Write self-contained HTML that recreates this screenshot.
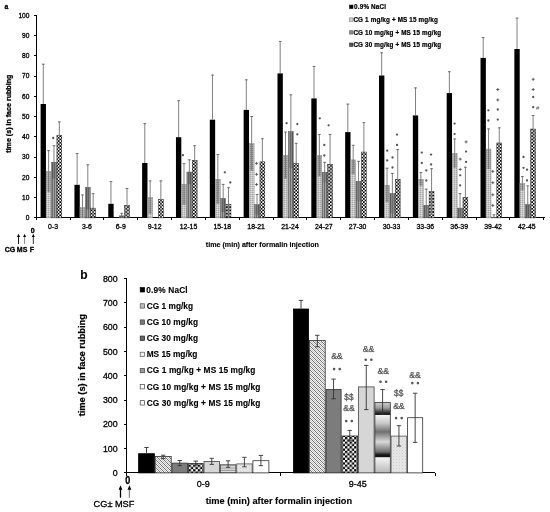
<!DOCTYPE html>
<html><head><meta charset="utf-8"><style>
html,body{margin:0;padding:0;background:#fff;}
body{width:550px;height:512px;overflow:hidden;}
svg{display:block;will-change:transform;}
svg text{font-family:"Liberation Sans", sans-serif;fill:#000;}
.r{stroke:#000;stroke-width:0.3px;}
svg text[font-weight="bold"]{stroke:#000;stroke-width:0.12px;}
</style></head><body>
<svg width="550" height="512" viewBox="0 0 550 512">

<defs>
 <pattern id="pLight" width="2" height="2" patternUnits="userSpaceOnUse" shape-rendering="crispEdges">
  <rect width="2" height="2" fill="#c8c8c8"/>
  <rect width="1" height="1" fill="#a6a6a6"/>
  <rect x="1" y="1" width="1" height="1" fill="#dedede"/>
 </pattern>
 <pattern id="pGray" width="2" height="2" patternUnits="userSpaceOnUse">
  <rect width="2" height="2" fill="#a2a2a2"/>
  <rect width="1" height="2" fill="#6a6a6a"/>
 </pattern>
 <pattern id="pCheck" width="3.3" height="3.3" patternUnits="userSpaceOnUse">
  <rect width="3.3" height="3.3" fill="#ffffff"/>
  <rect width="1.65" height="1.65" fill="#000"/>
  <rect x="1.65" y="1.65" width="1.65" height="1.65" fill="#000"/>
 </pattern>
 <pattern id="pCheckB" width="4.6" height="4.6" patternUnits="userSpaceOnUse">
  <rect width="4.6" height="4.6" fill="#ffffff"/>
  <rect width="2.3" height="2.3" fill="#000"/>
  <rect x="2.3" y="2.3" width="2.3" height="2.3" fill="#000"/>
 </pattern>
 <pattern id="pHatch" width="4" height="4" patternUnits="userSpaceOnUse" shape-rendering="crispEdges">
  <rect width="4" height="4" fill="#c2c2c2"/>
  <rect x="1" y="0" width="1" height="1" fill="#f0f0f0"/><rect x="3" y="0" width="1" height="1" fill="#f0f0f0"/>
  <rect x="0" y="1" width="1" height="1" fill="#f0f0f0"/><rect x="2" y="1" width="1" height="1" fill="#f0f0f0"/>
  <rect x="1" y="2" width="1" height="1" fill="#f0f0f0"/><rect x="3" y="2" width="1" height="1" fill="#f0f0f0"/>
  <rect x="0" y="3" width="1" height="1" fill="#f0f0f0"/><rect x="2" y="3" width="1" height="1" fill="#f0f0f0"/>
  <rect x="0" y="0" width="1" height="1" fill="#777"/><rect x="1" y="1" width="1" height="1" fill="#777"/>
  <rect x="2" y="2" width="1" height="1" fill="#777"/><rect x="3" y="3" width="1" height="1" fill="#777"/>
 </pattern>
 <pattern id="pHStripe" width="4" height="2.2" patternUnits="userSpaceOnUse">
  <rect width="4" height="2.2" fill="#eeeeee"/>
  <rect y="1.1" width="4" height="1.1" fill="#9a9a9a"/>
 </pattern>
 <pattern id="pDots" width="3" height="3" patternUnits="userSpaceOnUse">
  <rect width="3" height="3" fill="#e6e6e6"/>
  <rect x="0" y="0" width="1" height="1" fill="#cfcfcf"/>
  <rect x="1.5" y="1.5" width="1" height="1" fill="#dcdcdc"/>
 </pattern>
 <linearGradient id="gCyl" x1="0" y1="402" x2="0" y2="473" gradientUnits="userSpaceOnUse">
  <stop offset="0" stop-color="#d0d0d0"/>
  <stop offset="0.08" stop-color="#a0a0a0"/>
  <stop offset="0.15" stop-color="#303030"/>
  <stop offset="0.175" stop-color="#101010"/>
  <stop offset="0.19" stop-color="#f2f2f2"/>
  <stop offset="0.30" stop-color="#c8c8c8"/>
  <stop offset="0.42" stop-color="#707070"/>
  <stop offset="0.56" stop-color="#d8d8d8"/>
  <stop offset="0.70" stop-color="#707070"/>
  <stop offset="0.745" stop-color="#151515"/>
  <stop offset="0.77" stop-color="#151515"/>
  <stop offset="0.785" stop-color="#f4f4f4"/>
  <stop offset="1" stop-color="#b8b8b8"/>
 </linearGradient>
</defs>
<g shape-rendering="crispEdges">
<rect x="35.8" y="15" width="1" height="203.4" fill="#000"/>
<rect x="35.8" y="217.4" width="508.8" height="1" fill="#000"/>
<rect x="33.8" y="217.4" width="2.5" height="1" fill="#000"/>
<rect x="33.8" y="197.13" width="2.5" height="1" fill="#000"/>
<rect x="33.8" y="176.86" width="2.5" height="1" fill="#000"/>
<rect x="33.8" y="156.59" width="2.5" height="1" fill="#000"/>
<rect x="33.8" y="136.32" width="2.5" height="1" fill="#000"/>
<rect x="33.8" y="116.05" width="2.5" height="1" fill="#000"/>
<rect x="33.8" y="95.78" width="2.5" height="1" fill="#000"/>
<rect x="33.8" y="75.51" width="2.5" height="1" fill="#000"/>
<rect x="33.8" y="55.24" width="2.5" height="1" fill="#000"/>
<rect x="33.8" y="34.97" width="2.5" height="1" fill="#000"/>
<rect x="33.8" y="14.7" width="2.5" height="1" fill="#000"/>
<rect x="35.66" y="217.9" width="1" height="2.5" fill="#000"/>
<rect x="69.5" y="217.9" width="1" height="2.5" fill="#000"/>
<rect x="103.34" y="217.9" width="1" height="2.5" fill="#000"/>
<rect x="137.18" y="217.9" width="1" height="2.5" fill="#000"/>
<rect x="171.02" y="217.9" width="1" height="2.5" fill="#000"/>
<rect x="204.86" y="217.9" width="1" height="2.5" fill="#000"/>
<rect x="238.7" y="217.9" width="1" height="2.5" fill="#000"/>
<rect x="272.54" y="217.9" width="1" height="2.5" fill="#000"/>
<rect x="306.38" y="217.9" width="1" height="2.5" fill="#000"/>
<rect x="340.22" y="217.9" width="1" height="2.5" fill="#000"/>
<rect x="374.06" y="217.9" width="1" height="2.5" fill="#000"/>
<rect x="407.9" y="217.9" width="1" height="2.5" fill="#000"/>
<rect x="441.74" y="217.9" width="1" height="2.5" fill="#000"/>
<rect x="475.58" y="217.9" width="1" height="2.5" fill="#000"/>
<rect x="509.42" y="217.9" width="1" height="2.5" fill="#000"/>
<rect x="543.26" y="217.9" width="1" height="2.5" fill="#000"/>
</g>
<text class="r" x="29.4" y="220.3" font-size="6.6" text-anchor="end">0</text>
<text class="r" x="29.4" y="200.03" font-size="6.6" text-anchor="end">10</text>
<text class="r" x="29.4" y="179.76" font-size="6.6" text-anchor="end">20</text>
<text class="r" x="29.4" y="159.49" font-size="6.6" text-anchor="end">30</text>
<text class="r" x="29.4" y="139.22" font-size="6.6" text-anchor="end">40</text>
<text class="r" x="29.4" y="118.95" font-size="6.6" text-anchor="end">50</text>
<text class="r" x="29.4" y="98.68" font-size="6.6" text-anchor="end">60</text>
<text class="r" x="29.4" y="78.41" font-size="6.6" text-anchor="end">70</text>
<text class="r" x="29.4" y="58.14" font-size="6.6" text-anchor="end">80</text>
<text class="r" x="29.4" y="37.87" font-size="6.6" text-anchor="end">90</text>
<text class="r" x="29.4" y="17.6" font-size="6.6" text-anchor="end">100</text>
<rect x="40.6" y="104" width="5.35" height="113.9" fill="#000"/>
<rect x="46.2" y="171.45" width="4.85" height="46.45" fill="url(#pLight)" stroke="#8a8a8a" stroke-width="0.5"/>
<rect x="51.55" y="162.25" width="4.85" height="55.65" fill="url(#pGray)" stroke="#555" stroke-width="0.5"/>
<rect x="56.9" y="135.45" width="4.85" height="82.45" fill="url(#pCheck)" stroke="#222" stroke-width="0.5"/>
<line x1="43.27" y1="63.9" x2="43.27" y2="104" stroke="#737373" stroke-width="0.9"/>
<line x1="41.88" y1="64.2" x2="44.67" y2="64.2" stroke="#555" stroke-width="0.8"/>
<rect x="46.55" y="171.7" width="4.15" height="20.4" fill="#000" fill-opacity="0.16"/>
<line x1="48.62" y1="150.3" x2="48.62" y2="192.1" stroke="#737373" stroke-width="0.9"/>
<line x1="47.23" y1="150.6" x2="50.02" y2="150.6" stroke="#555" stroke-width="0.8"/>
<rect x="51.9" y="162.5" width="4.15" height="16.1" fill="#000" fill-opacity="0.16"/>
<line x1="53.97" y1="145.4" x2="53.97" y2="178.6" stroke="#737373" stroke-width="0.9"/>
<line x1="52.57" y1="145.7" x2="55.37" y2="145.7" stroke="#555" stroke-width="0.8"/>
<line x1="59.32" y1="121.6" x2="59.32" y2="148.8" stroke="#737373" stroke-width="0.9"/>
<line x1="57.92" y1="121.9" x2="60.72" y2="121.9" stroke="#555" stroke-width="0.8"/>
<text class="r" x="53.08" y="229" font-size="6.9" text-anchor="middle">0-3</text>
<rect x="74.44" y="184.8" width="5.35" height="33.1" fill="#000"/>
<rect x="80.04" y="207.55" width="4.85" height="10.35" fill="url(#pLight)" stroke="#8a8a8a" stroke-width="0.5"/>
<rect x="85.39" y="187.25" width="4.85" height="30.65" fill="url(#pGray)" stroke="#555" stroke-width="0.5"/>
<rect x="90.74" y="208.15" width="4.85" height="9.75" fill="url(#pCheck)" stroke="#222" stroke-width="0.5"/>
<line x1="77.11" y1="153.2" x2="77.11" y2="184.8" stroke="#737373" stroke-width="0.9"/>
<line x1="75.71" y1="153.5" x2="78.52" y2="153.5" stroke="#555" stroke-width="0.8"/>
<rect x="80.39" y="207.8" width="4.15" height="10.1" fill="#000" fill-opacity="0.16"/>
<line x1="82.46" y1="194.6" x2="82.46" y2="217.9" stroke="#737373" stroke-width="0.9"/>
<line x1="81.06" y1="194.9" x2="83.86" y2="194.9" stroke="#555" stroke-width="0.8"/>
<rect x="85.74" y="187.5" width="4.15" height="22" fill="#000" fill-opacity="0.16"/>
<line x1="87.81" y1="164.5" x2="87.81" y2="209.5" stroke="#737373" stroke-width="0.9"/>
<line x1="86.41" y1="164.8" x2="89.22" y2="164.8" stroke="#555" stroke-width="0.8"/>
<line x1="93.16" y1="193.4" x2="93.16" y2="217.9" stroke="#737373" stroke-width="0.9"/>
<line x1="91.76" y1="193.7" x2="94.56" y2="193.7" stroke="#555" stroke-width="0.8"/>
<text class="r" x="86.92" y="229" font-size="6.9" text-anchor="middle">3-6</text>
<rect x="108.28" y="203.8" width="5.35" height="14.1" fill="#000"/>
<rect x="119.23" y="215.85" width="4.85" height="2.05" fill="url(#pGray)" stroke="#555" stroke-width="0.5"/>
<rect x="124.58" y="205.25" width="4.85" height="12.65" fill="url(#pCheck)" stroke="#222" stroke-width="0.5"/>
<line x1="110.95" y1="181.3" x2="110.95" y2="203.8" stroke="#737373" stroke-width="0.9"/>
<line x1="109.55" y1="181.6" x2="112.36" y2="181.6" stroke="#555" stroke-width="0.8"/>
<rect x="119.58" y="216.1" width="4.15" height="1.8" fill="#000" fill-opacity="0.16"/>
<line x1="121.66" y1="213" x2="121.66" y2="217.9" stroke="#737373" stroke-width="0.9"/>
<line x1="120.25" y1="213.3" x2="123.06" y2="213.3" stroke="#555" stroke-width="0.8"/>
<line x1="127" y1="188.2" x2="127" y2="217.9" stroke="#737373" stroke-width="0.9"/>
<line x1="125.6" y1="188.5" x2="128.41" y2="188.5" stroke="#555" stroke-width="0.8"/>
<text class="r" x="120.76" y="229" font-size="6.9" text-anchor="middle">6-9</text>
<rect x="142.12" y="163" width="5.35" height="54.9" fill="#000"/>
<rect x="147.72" y="197.45" width="4.85" height="20.45" fill="url(#pLight)" stroke="#8a8a8a" stroke-width="0.5"/>
<rect x="158.42" y="199.45" width="4.85" height="18.45" fill="url(#pCheck)" stroke="#222" stroke-width="0.5"/>
<line x1="144.8" y1="123.3" x2="144.8" y2="163" stroke="#737373" stroke-width="0.9"/>
<line x1="143.4" y1="123.6" x2="146.2" y2="123.6" stroke="#555" stroke-width="0.8"/>
<rect x="148.07" y="197.7" width="4.15" height="16.1" fill="#000" fill-opacity="0.16"/>
<line x1="150.15" y1="180.6" x2="150.15" y2="213.8" stroke="#737373" stroke-width="0.9"/>
<line x1="148.75" y1="180.9" x2="151.55" y2="180.9" stroke="#555" stroke-width="0.8"/>
<line x1="160.85" y1="180.6" x2="160.85" y2="217.8" stroke="#737373" stroke-width="0.9"/>
<line x1="159.45" y1="180.9" x2="162.25" y2="180.9" stroke="#555" stroke-width="0.8"/>
<text class="r" x="154.6" y="229" font-size="6.9" text-anchor="middle">9-12</text>
<rect x="175.96" y="137.2" width="5.35" height="80.7" fill="#000"/>
<rect x="181.56" y="184.35" width="4.85" height="33.55" fill="url(#pLight)" stroke="#8a8a8a" stroke-width="0.5"/>
<rect x="186.91" y="172.05" width="4.85" height="45.85" fill="url(#pGray)" stroke="#555" stroke-width="0.5"/>
<rect x="192.26" y="160.35" width="4.85" height="57.55" fill="url(#pCheck)" stroke="#222" stroke-width="0.5"/>
<line x1="178.64" y1="100.4" x2="178.64" y2="137.2" stroke="#737373" stroke-width="0.9"/>
<line x1="177.24" y1="100.7" x2="180.04" y2="100.7" stroke="#555" stroke-width="0.8"/>
<rect x="181.91" y="184.6" width="4.15" height="20.2" fill="#000" fill-opacity="0.16"/>
<line x1="183.99" y1="163.4" x2="183.99" y2="204.8" stroke="#737373" stroke-width="0.9"/>
<line x1="182.59" y1="163.7" x2="185.39" y2="163.7" stroke="#555" stroke-width="0.8"/>
<rect x="187.26" y="172.3" width="4.15" height="11.8" fill="#000" fill-opacity="0.16"/>
<line x1="189.34" y1="159.5" x2="189.34" y2="184.1" stroke="#737373" stroke-width="0.9"/>
<line x1="187.94" y1="159.8" x2="190.74" y2="159.8" stroke="#555" stroke-width="0.8"/>
<line x1="194.69" y1="145.4" x2="194.69" y2="174.8" stroke="#737373" stroke-width="0.9"/>
<line x1="193.28" y1="145.7" x2="196.09" y2="145.7" stroke="#555" stroke-width="0.8"/>
<text class="r" x="188.44" y="229" font-size="6.9" text-anchor="middle">12-15</text>
<rect x="209.8" y="119.7" width="5.35" height="98.2" fill="#000"/>
<rect x="215.4" y="179.25" width="4.85" height="38.65" fill="url(#pLight)" stroke="#8a8a8a" stroke-width="0.5"/>
<rect x="220.75" y="198.35" width="4.85" height="19.55" fill="url(#pGray)" stroke="#555" stroke-width="0.5"/>
<rect x="226.1" y="204.25" width="4.85" height="13.65" fill="url(#pCheck)" stroke="#222" stroke-width="0.5"/>
<line x1="212.48" y1="74.8" x2="212.48" y2="119.7" stroke="#737373" stroke-width="0.9"/>
<line x1="211.08" y1="75.1" x2="213.88" y2="75.1" stroke="#555" stroke-width="0.8"/>
<rect x="215.75" y="179.5" width="4.15" height="24.3" fill="#000" fill-opacity="0.16"/>
<line x1="217.83" y1="154.2" x2="217.83" y2="203.8" stroke="#737373" stroke-width="0.9"/>
<line x1="216.43" y1="154.5" x2="219.23" y2="154.5" stroke="#555" stroke-width="0.8"/>
<rect x="221.1" y="198.6" width="4.15" height="13.5" fill="#000" fill-opacity="0.16"/>
<line x1="223.18" y1="184.1" x2="223.18" y2="212.1" stroke="#737373" stroke-width="0.9"/>
<line x1="221.78" y1="184.4" x2="224.58" y2="184.4" stroke="#555" stroke-width="0.8"/>
<line x1="228.53" y1="187.4" x2="228.53" y2="217.9" stroke="#737373" stroke-width="0.9"/>
<line x1="227.13" y1="187.7" x2="229.93" y2="187.7" stroke="#555" stroke-width="0.8"/>
<text class="r" x="222.28" y="229" font-size="6.9" text-anchor="middle">15-18</text>
<rect x="243.64" y="109.9" width="5.35" height="108" fill="#000"/>
<rect x="249.24" y="143.65" width="4.85" height="74.25" fill="url(#pLight)" stroke="#8a8a8a" stroke-width="0.5"/>
<rect x="254.59" y="204.65" width="4.85" height="13.25" fill="url(#pGray)" stroke="#555" stroke-width="0.5"/>
<rect x="259.94" y="161.85" width="4.85" height="56.05" fill="url(#pCheck)" stroke="#222" stroke-width="0.5"/>
<line x1="246.32" y1="79.5" x2="246.32" y2="109.9" stroke="#737373" stroke-width="0.9"/>
<line x1="244.92" y1="79.8" x2="247.72" y2="79.8" stroke="#555" stroke-width="0.8"/>
<rect x="249.59" y="143.9" width="4.15" height="26.7" fill="#000" fill-opacity="0.16"/>
<line x1="251.67" y1="116.2" x2="251.67" y2="170.6" stroke="#737373" stroke-width="0.9"/>
<line x1="250.27" y1="116.5" x2="253.07" y2="116.5" stroke="#555" stroke-width="0.8"/>
<rect x="254.94" y="204.9" width="4.15" height="9.7" fill="#000" fill-opacity="0.16"/>
<line x1="257.01" y1="194.2" x2="257.01" y2="214.6" stroke="#737373" stroke-width="0.9"/>
<line x1="255.61" y1="194.5" x2="258.41" y2="194.5" stroke="#555" stroke-width="0.8"/>
<line x1="262.37" y1="138.4" x2="262.37" y2="184.8" stroke="#737373" stroke-width="0.9"/>
<line x1="260.97" y1="138.7" x2="263.76" y2="138.7" stroke="#555" stroke-width="0.8"/>
<text class="r" x="256.12" y="229" font-size="6.9" text-anchor="middle">18-21</text>
<rect x="277.48" y="73.4" width="5.35" height="144.5" fill="#000"/>
<rect x="283.08" y="155.45" width="4.85" height="62.45" fill="url(#pLight)" stroke="#8a8a8a" stroke-width="0.5"/>
<rect x="288.43" y="131.55" width="4.85" height="86.35" fill="url(#pGray)" stroke="#555" stroke-width="0.5"/>
<rect x="293.78" y="163.25" width="4.85" height="54.65" fill="url(#pCheck)" stroke="#222" stroke-width="0.5"/>
<line x1="280.16" y1="41.1" x2="280.16" y2="73.4" stroke="#737373" stroke-width="0.9"/>
<line x1="278.76" y1="41.4" x2="281.56" y2="41.4" stroke="#555" stroke-width="0.8"/>
<rect x="283.43" y="155.7" width="4.15" height="22.9" fill="#000" fill-opacity="0.16"/>
<line x1="285.51" y1="131.8" x2="285.51" y2="178.6" stroke="#737373" stroke-width="0.9"/>
<line x1="284.11" y1="132.1" x2="286.91" y2="132.1" stroke="#555" stroke-width="0.8"/>
<rect x="288.78" y="131.8" width="4.15" height="36.3" fill="#000" fill-opacity="0.16"/>
<line x1="290.86" y1="94.5" x2="290.86" y2="168.1" stroke="#737373" stroke-width="0.9"/>
<line x1="289.46" y1="94.8" x2="292.25" y2="94.8" stroke="#555" stroke-width="0.8"/>
<line x1="296.21" y1="143" x2="296.21" y2="183" stroke="#737373" stroke-width="0.9"/>
<line x1="294.81" y1="143.3" x2="297.61" y2="143.3" stroke="#555" stroke-width="0.8"/>
<text class="r" x="289.96" y="229" font-size="6.9" text-anchor="middle">21-24</text>
<rect x="311.32" y="98.4" width="5.35" height="119.5" fill="#000"/>
<rect x="316.92" y="155.45" width="4.85" height="62.45" fill="url(#pLight)" stroke="#8a8a8a" stroke-width="0.5"/>
<rect x="322.27" y="172.35" width="4.85" height="45.55" fill="url(#pGray)" stroke="#555" stroke-width="0.5"/>
<rect x="327.62" y="164.25" width="4.85" height="53.65" fill="url(#pCheck)" stroke="#222" stroke-width="0.5"/>
<line x1="314" y1="66.1" x2="314" y2="98.4" stroke="#737373" stroke-width="0.9"/>
<line x1="312.6" y1="66.4" x2="315.4" y2="66.4" stroke="#555" stroke-width="0.8"/>
<rect x="317.27" y="155.7" width="4.15" height="20.6" fill="#000" fill-opacity="0.16"/>
<line x1="319.35" y1="134.1" x2="319.35" y2="176.3" stroke="#737373" stroke-width="0.9"/>
<line x1="317.95" y1="134.4" x2="320.75" y2="134.4" stroke="#555" stroke-width="0.8"/>
<rect x="322.62" y="172.6" width="4.15" height="9.6" fill="#000" fill-opacity="0.16"/>
<line x1="324.7" y1="162" x2="324.7" y2="182.2" stroke="#737373" stroke-width="0.9"/>
<line x1="323.3" y1="162.3" x2="326.1" y2="162.3" stroke="#555" stroke-width="0.8"/>
<line x1="330.05" y1="134.1" x2="330.05" y2="193.9" stroke="#737373" stroke-width="0.9"/>
<line x1="328.65" y1="134.4" x2="331.45" y2="134.4" stroke="#555" stroke-width="0.8"/>
<text class="r" x="323.8" y="229" font-size="6.9" text-anchor="middle">24-27</text>
<rect x="345.16" y="132.1" width="5.35" height="85.8" fill="#000"/>
<rect x="350.76" y="159.85" width="4.85" height="58.05" fill="url(#pLight)" stroke="#8a8a8a" stroke-width="0.5"/>
<rect x="356.11" y="181.35" width="4.85" height="36.55" fill="url(#pGray)" stroke="#555" stroke-width="0.5"/>
<rect x="361.46" y="152.05" width="4.85" height="65.85" fill="url(#pCheck)" stroke="#222" stroke-width="0.5"/>
<line x1="347.84" y1="103.8" x2="347.84" y2="132.1" stroke="#737373" stroke-width="0.9"/>
<line x1="346.44" y1="104.1" x2="349.24" y2="104.1" stroke="#555" stroke-width="0.8"/>
<rect x="351.11" y="160.1" width="4.15" height="14.1" fill="#000" fill-opacity="0.16"/>
<line x1="353.19" y1="145" x2="353.19" y2="174.2" stroke="#737373" stroke-width="0.9"/>
<line x1="351.79" y1="145.3" x2="354.59" y2="145.3" stroke="#555" stroke-width="0.8"/>
<rect x="356.46" y="181.6" width="4.15" height="19.6" fill="#000" fill-opacity="0.16"/>
<line x1="358.54" y1="161" x2="358.54" y2="201.2" stroke="#737373" stroke-width="0.9"/>
<line x1="357.14" y1="161.3" x2="359.94" y2="161.3" stroke="#555" stroke-width="0.8"/>
<line x1="363.89" y1="122.3" x2="363.89" y2="181.3" stroke="#737373" stroke-width="0.9"/>
<line x1="362.49" y1="122.6" x2="365.29" y2="122.6" stroke="#555" stroke-width="0.8"/>
<text class="r" x="357.64" y="229" font-size="6.9" text-anchor="middle">27-30</text>
<rect x="379" y="75.5" width="5.35" height="142.4" fill="#000"/>
<rect x="384.6" y="185.25" width="4.85" height="32.65" fill="url(#pLight)" stroke="#8a8a8a" stroke-width="0.5"/>
<rect x="389.95" y="193.45" width="4.85" height="24.45" fill="url(#pGray)" stroke="#555" stroke-width="0.5"/>
<rect x="395.3" y="179.25" width="4.85" height="38.65" fill="url(#pCheck)" stroke="#222" stroke-width="0.5"/>
<line x1="381.68" y1="52.5" x2="381.68" y2="75.5" stroke="#737373" stroke-width="0.9"/>
<line x1="380.28" y1="52.8" x2="383.08" y2="52.8" stroke="#555" stroke-width="0.8"/>
<rect x="384.95" y="185.5" width="4.15" height="16.6" fill="#000" fill-opacity="0.16"/>
<line x1="387.03" y1="167.9" x2="387.03" y2="202.1" stroke="#737373" stroke-width="0.9"/>
<line x1="385.63" y1="168.2" x2="388.43" y2="168.2" stroke="#555" stroke-width="0.8"/>
<rect x="390.3" y="193.7" width="4.15" height="19.6" fill="#000" fill-opacity="0.16"/>
<line x1="392.38" y1="173.1" x2="392.38" y2="213.3" stroke="#737373" stroke-width="0.9"/>
<line x1="390.98" y1="173.4" x2="393.78" y2="173.4" stroke="#555" stroke-width="0.8"/>
<line x1="397.73" y1="149.3" x2="397.73" y2="208.7" stroke="#737373" stroke-width="0.9"/>
<line x1="396.33" y1="149.6" x2="399.13" y2="149.6" stroke="#555" stroke-width="0.8"/>
<text class="r" x="391.48" y="229" font-size="6.9" text-anchor="middle">30-33</text>
<rect x="412.84" y="115.4" width="5.35" height="102.5" fill="#000"/>
<rect x="418.44" y="179.25" width="4.85" height="38.65" fill="url(#pLight)" stroke="#8a8a8a" stroke-width="0.5"/>
<rect x="423.79" y="205.25" width="4.85" height="12.65" fill="url(#pGray)" stroke="#555" stroke-width="0.5"/>
<rect x="429.14" y="191.55" width="4.85" height="26.35" fill="url(#pCheck)" stroke="#222" stroke-width="0.5"/>
<line x1="415.52" y1="87.6" x2="415.52" y2="115.4" stroke="#737373" stroke-width="0.9"/>
<line x1="414.12" y1="87.9" x2="416.92" y2="87.9" stroke="#555" stroke-width="0.8"/>
<rect x="418.79" y="179.5" width="4.15" height="6.2" fill="#000" fill-opacity="0.16"/>
<line x1="420.87" y1="172.3" x2="420.87" y2="185.7" stroke="#737373" stroke-width="0.9"/>
<line x1="419.47" y1="172.6" x2="422.27" y2="172.6" stroke="#555" stroke-width="0.8"/>
<rect x="424.14" y="205.5" width="4.15" height="12.4" fill="#000" fill-opacity="0.16"/>
<line x1="426.22" y1="188.8" x2="426.22" y2="217.9" stroke="#737373" stroke-width="0.9"/>
<line x1="424.82" y1="189.1" x2="427.62" y2="189.1" stroke="#555" stroke-width="0.8"/>
<line x1="431.57" y1="168.4" x2="431.57" y2="214.2" stroke="#737373" stroke-width="0.9"/>
<line x1="430.17" y1="168.7" x2="432.97" y2="168.7" stroke="#555" stroke-width="0.8"/>
<text class="r" x="425.32" y="229" font-size="6.9" text-anchor="middle">33-36</text>
<rect x="446.68" y="93.1" width="5.35" height="124.8" fill="#000"/>
<rect x="452.28" y="153.45" width="4.85" height="64.45" fill="url(#pLight)" stroke="#8a8a8a" stroke-width="0.5"/>
<rect x="457.63" y="208.15" width="4.85" height="9.75" fill="url(#pGray)" stroke="#555" stroke-width="0.5"/>
<rect x="462.98" y="197.35" width="4.85" height="20.55" fill="url(#pCheck)" stroke="#222" stroke-width="0.5"/>
<line x1="449.36" y1="71.4" x2="449.36" y2="93.1" stroke="#737373" stroke-width="0.9"/>
<line x1="447.96" y1="71.7" x2="450.76" y2="71.7" stroke="#555" stroke-width="0.8"/>
<rect x="452.63" y="153.7" width="4.15" height="14.1" fill="#000" fill-opacity="0.16"/>
<line x1="454.71" y1="138.6" x2="454.71" y2="167.8" stroke="#737373" stroke-width="0.9"/>
<line x1="453.31" y1="138.9" x2="456.11" y2="138.9" stroke="#555" stroke-width="0.8"/>
<rect x="457.98" y="208.4" width="4.15" height="9.5" fill="#000" fill-opacity="0.16"/>
<line x1="460.06" y1="193.2" x2="460.06" y2="217.9" stroke="#737373" stroke-width="0.9"/>
<line x1="458.66" y1="193.5" x2="461.46" y2="193.5" stroke="#555" stroke-width="0.8"/>
<line x1="465.41" y1="166.9" x2="465.41" y2="217.9" stroke="#737373" stroke-width="0.9"/>
<line x1="464.01" y1="167.2" x2="466.81" y2="167.2" stroke="#555" stroke-width="0.8"/>
<text class="r" x="459.16" y="229" font-size="6.9" text-anchor="middle">36-39</text>
<rect x="480.52" y="57.9" width="5.35" height="160" fill="#000"/>
<rect x="486.12" y="149.05" width="4.85" height="68.85" fill="url(#pLight)" stroke="#8a8a8a" stroke-width="0.5"/>
<rect x="491.47" y="217.15" width="4.85" height="0.75" fill="url(#pGray)" stroke="#555" stroke-width="0.5"/>
<rect x="496.82" y="142.95" width="4.85" height="74.95" fill="url(#pCheck)" stroke="#222" stroke-width="0.5"/>
<line x1="483.2" y1="37.3" x2="483.2" y2="57.9" stroke="#737373" stroke-width="0.9"/>
<line x1="481.8" y1="37.6" x2="484.6" y2="37.6" stroke="#555" stroke-width="0.8"/>
<rect x="486.47" y="149.3" width="4.15" height="19.7" fill="#000" fill-opacity="0.16"/>
<line x1="488.55" y1="128.6" x2="488.55" y2="169" stroke="#737373" stroke-width="0.9"/>
<line x1="487.15" y1="128.9" x2="489.95" y2="128.9" stroke="#555" stroke-width="0.8"/>
<rect x="491.82" y="217.4" width="4.15" height="0.5" fill="#000" fill-opacity="0.16"/>
<line x1="493.9" y1="214.5" x2="493.9" y2="217.9" stroke="#737373" stroke-width="0.9"/>
<line x1="492.5" y1="214.8" x2="495.3" y2="214.8" stroke="#555" stroke-width="0.8"/>
<line x1="499.25" y1="127.5" x2="499.25" y2="157.9" stroke="#737373" stroke-width="0.9"/>
<line x1="497.85" y1="127.8" x2="500.65" y2="127.8" stroke="#555" stroke-width="0.8"/>
<text class="r" x="493" y="229" font-size="6.9" text-anchor="middle">39-42</text>
<rect x="514.36" y="49" width="5.35" height="168.9" fill="#000"/>
<rect x="519.96" y="183.55" width="4.85" height="34.35" fill="url(#pLight)" stroke="#8a8a8a" stroke-width="0.5"/>
<rect x="525.31" y="204.65" width="4.85" height="13.25" fill="url(#pGray)" stroke="#555" stroke-width="0.5"/>
<rect x="530.66" y="129.05" width="4.85" height="88.85" fill="url(#pCheck)" stroke="#222" stroke-width="0.5"/>
<line x1="517.03" y1="17.8" x2="517.03" y2="49" stroke="#737373" stroke-width="0.9"/>
<line x1="515.63" y1="18.1" x2="518.43" y2="18.1" stroke="#555" stroke-width="0.8"/>
<rect x="520.31" y="183.8" width="4.15" height="6.5" fill="#000" fill-opacity="0.16"/>
<line x1="522.38" y1="176.3" x2="522.38" y2="190.3" stroke="#737373" stroke-width="0.9"/>
<line x1="520.99" y1="176.6" x2="523.78" y2="176.6" stroke="#555" stroke-width="0.8"/>
<rect x="525.66" y="204.9" width="4.15" height="13" fill="#000" fill-opacity="0.16"/>
<line x1="527.74" y1="185.6" x2="527.74" y2="217.9" stroke="#737373" stroke-width="0.9"/>
<line x1="526.34" y1="185.9" x2="529.13" y2="185.9" stroke="#555" stroke-width="0.8"/>
<line x1="533.08" y1="115.2" x2="533.08" y2="142.4" stroke="#737373" stroke-width="0.9"/>
<line x1="531.68" y1="115.5" x2="534.48" y2="115.5" stroke="#555" stroke-width="0.8"/>
<text class="r" x="526.84" y="229" font-size="6.9" text-anchor="middle">42-45</text>
<circle cx="53.2" cy="138" r="1.15" fill="#555"/>
<circle cx="182.9" cy="155.2" r="1.15" fill="#555"/>
<circle cx="224.8" cy="172.3" r="1.15" fill="#555"/>
<circle cx="230.3" cy="182.5" r="1.15" fill="#555"/>
<path d="M255.1 163.4h3M256.6 161.9v3" stroke="#555" stroke-width="0.9" fill="none"/>
<path d="M255.1 174.3h3M256.6 172.8v3" stroke="#555" stroke-width="0.9" fill="none"/>
<path d="M255.1 184.5h3M256.6 183v3" stroke="#555" stroke-width="0.9" fill="none"/>
<circle cx="286.6" cy="123.2" r="1.15" fill="#555"/>
<circle cx="297.3" cy="124.1" r="1.15" fill="#555"/>
<circle cx="297.3" cy="134.3" r="1.15" fill="#555"/>
<circle cx="319.8" cy="118.3" r="1.15" fill="#555"/>
<circle cx="328.6" cy="125.3" r="1.15" fill="#555"/>
<circle cx="324.3" cy="145" r="1.15" fill="#555"/>
<circle cx="324.3" cy="155.5" r="1.15" fill="#555"/>
<circle cx="387.2" cy="150.7" r="1.15" fill="#555"/>
<circle cx="387.2" cy="160.4" r="1.15" fill="#555"/>
<circle cx="392.5" cy="157.5" r="1.15" fill="#555"/>
<circle cx="392.5" cy="167.5" r="1.15" fill="#555"/>
<circle cx="397" cy="134.6" r="1.15" fill="#555"/>
<circle cx="397" cy="145" r="1.15" fill="#555"/>
<circle cx="421.8" cy="152.6" r="1.15" fill="#555"/>
<circle cx="421.8" cy="163" r="1.15" fill="#555"/>
<circle cx="426.3" cy="170.4" r="1.15" fill="#555"/>
<circle cx="426.3" cy="180.5" r="1.15" fill="#555"/>
<circle cx="431.1" cy="154.6" r="1.15" fill="#555"/>
<circle cx="431.1" cy="164.5" r="1.15" fill="#555"/>
<circle cx="454.6" cy="123.6" r="1.15" fill="#555"/>
<circle cx="454.6" cy="134.1" r="1.15" fill="#555"/>
<path d="M458.7 159.1h3M460.2 157.6v3" stroke="#555" stroke-width="0.9" fill="none"/>
<path d="M458.7 169.4h3M460.2 167.9v3" stroke="#555" stroke-width="0.9" fill="none"/>
<circle cx="460.2" cy="175.3" r="1.15" fill="#555"/>
<circle cx="460.2" cy="185.4" r="1.15" fill="#555"/>
<path d="M464.6 141.9h3M466.1 140.4v3" stroke="#555" stroke-width="0.9" fill="none"/>
<circle cx="466.1" cy="151.6" r="1.15" fill="#555"/>
<circle cx="466.1" cy="162" r="1.15" fill="#555"/>
<circle cx="488.4" cy="110.3" r="1.15" fill="#555"/>
<circle cx="488.4" cy="120.5" r="1.15" fill="#555"/>
<path d="M496.3 89.5h3M497.8 88v3" stroke="#555" stroke-width="0.9" fill="none"/>
<path d="M496.3 99.9h3M497.8 98.4v3" stroke="#555" stroke-width="0.9" fill="none"/>
<circle cx="497.8" cy="109.5" r="1.15" fill="#555"/>
<circle cx="497.8" cy="119.6" r="1.15" fill="#555"/>
<path d="M491.3 171.4h3M492.8 169.9v3" stroke="#555" stroke-width="0.9" fill="none"/>
<path d="M491.3 182.7h3M492.8 181.2v3" stroke="#555" stroke-width="0.9" fill="none"/>
<path d="M491.3 194.8h3M492.8 193.3v3" stroke="#555" stroke-width="0.9" fill="none"/>
<path d="M491.3 205.4h3M492.8 203.9v3" stroke="#555" stroke-width="0.9" fill="none"/>
<circle cx="523.5" cy="157" r="1.15" fill="#555"/>
<circle cx="523.5" cy="167.8" r="1.15" fill="#555"/>
<circle cx="527" cy="169.7" r="1.15" fill="#555"/>
<circle cx="527" cy="180.5" r="1.15" fill="#555"/>
<path d="M531.7 79.3h3M533.2 77.8v3" stroke="#555" stroke-width="0.9" fill="none"/>
<path d="M531.7 89.5h3M533.2 88v3" stroke="#555" stroke-width="0.9" fill="none"/>
<circle cx="533.2" cy="97" r="1.15" fill="#555"/>
<circle cx="533.2" cy="107.2" r="1.15" fill="#555"/>
<text x="537.7" y="109.5" font-size="6" text-anchor="middle" style="fill:#555">#</text>
<rect x="349.6" y="5.1" width="3.4" height="3.4" fill="#000" stroke="#000" stroke-width="0.6"/>
<g transform="translate(354.1,8.9) scale(1,1)"><text x="0" y="0" font-size="6.3" font-weight="bold" style="stroke-width:0.22px" textLength="31.9" lengthAdjust="spacing">0.9% NaCl</text></g>
<rect x="349.6" y="17.9" width="3.4" height="3.4" fill="#d0d0d0" stroke="#777" stroke-width="0.6"/>
<g transform="translate(353.4,21.7) scale(1,1)"><text x="0" y="0" font-size="6.3" font-weight="bold" style="stroke-width:0.22px" textLength="84.4" lengthAdjust="spacing">CG 1 mg/kg + MS 15 mg/kg</text></g>
<rect x="349.6" y="30.7" width="3.4" height="3.4" fill="#8a8a8a" stroke="#666" stroke-width="0.6"/>
<g transform="translate(353.4,34.5) scale(1,1)"><text x="0" y="0" font-size="6.3" font-weight="bold" style="stroke-width:0.22px" textLength="87.8" lengthAdjust="spacing">CG 10 mg/kg + MS 15 mg/kg</text></g>
<rect x="349.6" y="43" width="3.4" height="3.4" fill="#555" stroke="#333" stroke-width="0.6"/>
<g transform="translate(353.4,46.8) scale(1,1)"><text x="0" y="0" font-size="6.3" font-weight="bold" style="stroke-width:0.22px" textLength="87.8" lengthAdjust="spacing">CG 30 mg/kg + MS 15 mg/kg</text></g>
<text transform="translate(11.2,113.7) rotate(-90)" font-size="7.1" font-weight="bold" style="stroke-width:0.3px" text-anchor="middle">time (s) in face rubbing</text>
<text x="205.8" y="246.9" font-size="7.15" font-weight="bold">time (min) after formalin injection</text>
<text x="4.6" y="8.8" font-size="6.8" font-weight="bold" style="stroke-width:0.3px">a</text>
<text x="30.7" y="233.2" font-size="7" font-weight="bold" style="stroke-width:0.35px">0</text>
<text x="4.8" y="251.9" font-size="7" font-weight="bold" style="stroke-width:0.3px">CG</text>
<text x="16.8" y="251.9" font-size="7" font-weight="bold" style="stroke-width:0.3px">MS</text>
<text x="29.8" y="251.9" font-size="7" font-weight="bold" style="stroke-width:0.3px">F</text>
<line x1="18.5" y1="236.5" x2="18.5" y2="244" stroke="#000" stroke-width="0.9"/>
<path d="M18.5 233.8L17 237L20 237Z" fill="#000"/>
<line x1="24.6" y1="236.5" x2="24.6" y2="244" stroke="#777" stroke-width="0.9"/>
<path d="M24.6 233.8L23.1 237L26.1 237Z" fill="#000"/>
<line x1="33.3" y1="236.5" x2="33.3" y2="244" stroke="#222" stroke-width="0.9"/>
<path d="M33.3 233.8L31.8 237L34.8 237Z" fill="#000"/>
<g shape-rendering="crispEdges">
<rect x="125.8" y="278" width="1" height="195.4" fill="#000"/>
<rect x="125.8" y="472.4" width="309.4" height="1" fill="#000"/>
<rect x="123.5" y="472.4" width="2.8" height="1" fill="#000"/>
<rect x="123.5" y="448.11" width="2.8" height="1" fill="#000"/>
<rect x="123.5" y="423.82" width="2.8" height="1" fill="#000"/>
<rect x="123.5" y="399.54" width="2.8" height="1" fill="#000"/>
<rect x="123.5" y="375.25" width="2.8" height="1" fill="#000"/>
<rect x="123.5" y="350.96" width="2.8" height="1" fill="#000"/>
<rect x="123.5" y="326.67" width="2.8" height="1" fill="#000"/>
<rect x="123.5" y="302.38" width="2.8" height="1" fill="#000"/>
<rect x="123.5" y="278.1" width="2.8" height="1" fill="#000"/>
<rect x="125.8" y="472.9" width="1" height="3" fill="#000"/>
<rect x="280.2" y="472.9" width="1" height="3" fill="#000"/>
<rect x="434.7" y="472.9" width="1" height="3" fill="#000"/>
</g>
<text class="r" x="117.6" y="476" font-size="8.8" text-anchor="end">0</text>
<text class="r" x="117.6" y="451.71" font-size="8.8" text-anchor="end">100</text>
<text class="r" x="117.6" y="427.42" font-size="8.8" text-anchor="end">200</text>
<text class="r" x="117.6" y="403.14" font-size="8.8" text-anchor="end">300</text>
<text class="r" x="117.6" y="378.85" font-size="8.8" text-anchor="end">400</text>
<text class="r" x="117.6" y="354.56" font-size="8.8" text-anchor="end">500</text>
<text class="r" x="117.6" y="330.27" font-size="8.8" text-anchor="end">600</text>
<text class="r" x="117.6" y="305.98" font-size="8.8" text-anchor="end">700</text>
<text class="r" x="117.6" y="281.7" font-size="8.8" text-anchor="end">800</text>
<rect x="138.6" y="453.7" width="15.8" height="19.2" fill="#000" stroke="#000" stroke-width="0.8"/>
<rect x="155.2" y="456.4" width="16" height="16.5" fill="url(#pHatch)" stroke="#333" stroke-width="0.8"/>
<rect x="172" y="463.1" width="15.5" height="9.8" fill="#7c7c7c" stroke="#333" stroke-width="0.8"/>
<rect x="188.3" y="463.6" width="14.9" height="9.3" fill="url(#pCheckB)" stroke="#222" stroke-width="0.8"/>
<rect x="204" y="461.5" width="15.5" height="11.4" fill="#d6d6d6" stroke="#444" stroke-width="0.8"/>
<rect x="220.3" y="464.8" width="15.6" height="8.1" fill="url(#pHStripe)" stroke="#333" stroke-width="0.8"/>
<rect x="236.7" y="463.9" width="15.4" height="9" fill="url(#pDots)" stroke="#555" stroke-width="0.8"/>
<rect x="252.9" y="460.7" width="16" height="12.2" fill="#fff" stroke="#333" stroke-width="0.8"/>
<line x1="146.5" y1="447.5" x2="146.5" y2="453.3" stroke="#333" stroke-width="0.9"/>
<line x1="144.3" y1="447.5" x2="148.7" y2="447.5" stroke="#333" stroke-width="0.9"/>
<line x1="163.2" y1="455.2" x2="163.2" y2="458.6" stroke="#333" stroke-width="0.9"/>
<line x1="161" y1="455.2" x2="165.4" y2="455.2" stroke="#333" stroke-width="0.9"/>
<line x1="161" y1="458.6" x2="165.4" y2="458.6" stroke="#333" stroke-width="0.9"/>
<line x1="179.75" y1="460.5" x2="179.75" y2="465.6" stroke="#333" stroke-width="0.9"/>
<line x1="177.55" y1="460.5" x2="181.95" y2="460.5" stroke="#333" stroke-width="0.9"/>
<line x1="177.55" y1="465.6" x2="181.95" y2="465.6" stroke="#333" stroke-width="0.9"/>
<line x1="195.75" y1="461.1" x2="195.75" y2="465.2" stroke="#333" stroke-width="0.9"/>
<line x1="193.55" y1="461.1" x2="197.95" y2="461.1" stroke="#333" stroke-width="0.9"/>
<line x1="193.55" y1="465.2" x2="197.95" y2="465.2" stroke="#333" stroke-width="0.9"/>
<line x1="211.75" y1="458.3" x2="211.75" y2="464.4" stroke="#333" stroke-width="0.9"/>
<line x1="209.55" y1="458.3" x2="213.95" y2="458.3" stroke="#333" stroke-width="0.9"/>
<line x1="209.55" y1="464.4" x2="213.95" y2="464.4" stroke="#333" stroke-width="0.9"/>
<line x1="228.1" y1="460.8" x2="228.1" y2="467.3" stroke="#333" stroke-width="0.9"/>
<line x1="225.9" y1="460.8" x2="230.3" y2="460.8" stroke="#333" stroke-width="0.9"/>
<line x1="225.9" y1="467.3" x2="230.3" y2="467.3" stroke="#333" stroke-width="0.9"/>
<line x1="244.4" y1="457.3" x2="244.4" y2="466.8" stroke="#333" stroke-width="0.9"/>
<line x1="242.2" y1="457.3" x2="246.6" y2="457.3" stroke="#333" stroke-width="0.9"/>
<line x1="242.2" y1="466.8" x2="246.6" y2="466.8" stroke="#333" stroke-width="0.9"/>
<line x1="260.9" y1="455.4" x2="260.9" y2="465.7" stroke="#333" stroke-width="0.9"/>
<line x1="258.7" y1="455.4" x2="263.1" y2="455.4" stroke="#333" stroke-width="0.9"/>
<line x1="258.7" y1="465.7" x2="263.1" y2="465.7" stroke="#333" stroke-width="0.9"/>
<rect x="293.4" y="309" width="15.2" height="163.9" fill="#000" stroke="#000" stroke-width="0.8"/>
<rect x="309.4" y="340.5" width="15.8" height="132.4" fill="url(#pHatch)" stroke="#333" stroke-width="0.8"/>
<rect x="326" y="389.5" width="15.1" height="83.4" fill="#7c7c7c" stroke="#333" stroke-width="0.8"/>
<rect x="341.9" y="436" width="15.7" height="36.9" fill="url(#pCheckB)" stroke="#222" stroke-width="0.8"/>
<rect x="358.4" y="386.9" width="15.7" height="86" fill="#d6d6d6" stroke="#444" stroke-width="0.8"/>
<rect x="374.9" y="402.6" width="15.4" height="70.3" fill="url(#gCyl)" stroke="#333" stroke-width="0.8"/>
<rect x="391.1" y="436.1" width="15.7" height="36.8" fill="url(#pDots)" stroke="#555" stroke-width="0.8"/>
<rect x="407.6" y="417.7" width="15.1" height="55.2" fill="#fff" stroke="#333" stroke-width="0.8"/>
<line x1="301" y1="300.4" x2="301" y2="308.6" stroke="#333" stroke-width="0.9"/>
<line x1="298.8" y1="300.4" x2="303.2" y2="300.4" stroke="#333" stroke-width="0.9"/>
<line x1="317.3" y1="335.3" x2="317.3" y2="346.8" stroke="#333" stroke-width="0.9"/>
<line x1="315.1" y1="335.3" x2="319.5" y2="335.3" stroke="#333" stroke-width="0.9"/>
<line x1="315.1" y1="346.8" x2="319.5" y2="346.8" stroke="#333" stroke-width="0.9"/>
<line x1="333.55" y1="379.1" x2="333.55" y2="398.8" stroke="#333" stroke-width="0.9"/>
<line x1="331.35" y1="379.1" x2="335.75" y2="379.1" stroke="#333" stroke-width="0.9"/>
<line x1="331.35" y1="398.8" x2="335.75" y2="398.8" stroke="#333" stroke-width="0.9"/>
<line x1="349.75" y1="430.4" x2="349.75" y2="440.8" stroke="#333" stroke-width="0.9"/>
<line x1="347.55" y1="430.4" x2="351.95" y2="430.4" stroke="#333" stroke-width="0.9"/>
<line x1="347.55" y1="440.8" x2="351.95" y2="440.8" stroke="#333" stroke-width="0.9"/>
<line x1="366.25" y1="365.4" x2="366.25" y2="409.6" stroke="#333" stroke-width="0.9"/>
<line x1="364.05" y1="365.4" x2="368.45" y2="365.4" stroke="#333" stroke-width="0.9"/>
<line x1="364.05" y1="409.6" x2="368.45" y2="409.6" stroke="#333" stroke-width="0.9"/>
<line x1="382.6" y1="389.6" x2="382.6" y2="414.4" stroke="#333" stroke-width="0.9"/>
<line x1="380.4" y1="389.6" x2="384.8" y2="389.6" stroke="#333" stroke-width="0.9"/>
<line x1="380.4" y1="414.4" x2="384.8" y2="414.4" stroke="#333" stroke-width="0.9"/>
<line x1="398.95" y1="425.7" x2="398.95" y2="446" stroke="#333" stroke-width="0.9"/>
<line x1="396.75" y1="425.7" x2="401.15" y2="425.7" stroke="#333" stroke-width="0.9"/>
<line x1="396.75" y1="446" x2="401.15" y2="446" stroke="#333" stroke-width="0.9"/>
<line x1="415.15" y1="393.2" x2="415.15" y2="442.4" stroke="#333" stroke-width="0.9"/>
<line x1="412.95" y1="393.2" x2="417.35" y2="393.2" stroke="#333" stroke-width="0.9"/>
<line x1="412.95" y1="442.4" x2="417.35" y2="442.4" stroke="#333" stroke-width="0.9"/>
<text class="r" x="203.2" y="487.4" font-size="9" text-anchor="middle">0-9</text>
<text class="r" x="357.8" y="487.4" font-size="9" text-anchor="middle">9-45</text>
<text x="336.8" y="359.4" font-size="8.8" text-anchor="middle" style="fill:#555;stroke:#555;stroke-width:0.25px" letter-spacing="-0.2">&amp;&amp;</text>
<circle cx="334.1" cy="369.1" r="1.3" fill="#555"/><circle cx="339.7" cy="369.1" r="1.3" fill="#555"/>
<text x="348.9" y="400.3" font-size="8.2" text-anchor="middle" style="fill:#555;stroke:#555;stroke-width:0.25px" letter-spacing="0.2">$$</text>
<text x="348.9" y="411.4" font-size="8.8" text-anchor="middle" style="fill:#555;stroke:#555;stroke-width:0.25px" letter-spacing="-0.2">&amp;&amp;</text>
<circle cx="346.2" cy="421.1" r="1.3" fill="#555"/><circle cx="351.8" cy="421.1" r="1.3" fill="#555"/>
<text x="368.4" y="352" font-size="8.8" text-anchor="middle" style="fill:#555;stroke:#555;stroke-width:0.25px" letter-spacing="-0.2">&amp;&amp;</text>
<circle cx="365.7" cy="359.8" r="1.3" fill="#555"/><circle cx="371.3" cy="359.8" r="1.3" fill="#555"/>
<text x="383.2" y="374.3" font-size="8.8" text-anchor="middle" style="fill:#555;stroke:#555;stroke-width:0.25px" letter-spacing="-0.2">&amp;&amp;</text>
<circle cx="380.5" cy="381.7" r="1.3" fill="#555"/><circle cx="386.1" cy="381.7" r="1.3" fill="#555"/>
<text x="398.8" y="395.5" font-size="8.2" text-anchor="middle" style="fill:#555;stroke:#555;stroke-width:0.25px" letter-spacing="0.2">$$</text>
<text x="398.8" y="408.5" font-size="8.8" text-anchor="middle" style="fill:#555;stroke:#555;stroke-width:0.25px" letter-spacing="-0.2">&amp;&amp;</text>
<circle cx="396.1" cy="418.1" r="1.3" fill="#555"/><circle cx="401.7" cy="418.1" r="1.3" fill="#555"/>
<text x="415" y="377.6" font-size="8.8" text-anchor="middle" style="fill:#555;stroke:#555;stroke-width:0.25px" letter-spacing="-0.2">&amp;&amp;</text>
<circle cx="412.3" cy="383.1" r="1.3" fill="#555"/><circle cx="417.9" cy="383.1" r="1.3" fill="#555"/>
<rect x="140.2" y="287.6" width="4.4" height="4.4" fill="#000" stroke="#000" stroke-width="0.7"/>
<g transform="translate(146.3,292.6) scale(1,1)"><text x="0" y="0" font-size="8.3" font-weight="bold" textLength="41.3" lengthAdjust="spacing">0.9% NaCl</text></g>
<rect x="140.2" y="303.75" width="4.4" height="4.4" fill="#bbb" stroke="#555" stroke-width="0.7"/>
<g transform="translate(146.7,308.75) scale(1,1)"><text x="0" y="0" font-size="8.3" font-weight="bold" textLength="46.4" lengthAdjust="spacing">CG 1 mg/kg</text></g>
<rect x="140.2" y="319.9" width="4.4" height="4.4" fill="#777" stroke="#444" stroke-width="0.7"/>
<g transform="translate(146.7,324.9) scale(1,1)"><text x="0" y="0" font-size="8.3" font-weight="bold" textLength="51.3" lengthAdjust="spacing">CG 10 mg/kg</text></g>
<rect x="140.2" y="336.05" width="4.4" height="4.4" fill="#666" stroke="#222" stroke-width="0.7"/>
<g transform="translate(146.7,341.05) scale(1,1)"><text x="0" y="0" font-size="8.3" font-weight="bold" textLength="51.3" lengthAdjust="spacing">CG 30 mg/kg</text></g>
<rect x="140.2" y="352.2" width="4.4" height="4.4" fill="#eee" stroke="#555" stroke-width="0.7"/>
<g transform="translate(146.7,357.2) scale(1,1)"><text x="0" y="0" font-size="8.3" font-weight="bold" textLength="50.7" lengthAdjust="spacing">MS 15 mg/kg</text></g>
<rect x="140.2" y="368.35" width="4.4" height="4.4" fill="#999" stroke="#444" stroke-width="0.7"/>
<g transform="translate(146.7,373.35) scale(1,1)"><text x="0" y="0" font-size="8.3" font-weight="bold" textLength="108.7" lengthAdjust="spacing">CG 1 mg/kg + MS 15 mg/kg</text></g>
<rect x="140.2" y="384.5" width="4.4" height="4.4" fill="#fff" stroke="#444" stroke-width="0.7"/>
<g transform="translate(146.7,389.5) scale(1,1)"><text x="0" y="0" font-size="8.3" font-weight="bold" textLength="113.6" lengthAdjust="spacing">CG 10 mg/kg + MS 15 mg/kg</text></g>
<rect x="140.2" y="400.65" width="4.4" height="4.4" fill="#fff" stroke="#444" stroke-width="0.7"/>
<g transform="translate(146.7,405.65) scale(1,1)"><text x="0" y="0" font-size="8.3" font-weight="bold" textLength="113.6" lengthAdjust="spacing">CG 30 mg/kg + MS 15 mg/kg</text></g>
<text transform="translate(84.9,365.2) rotate(-90)" font-size="9.3" font-weight="bold" style="stroke-width:0.25px" text-anchor="middle">time (s) in face rubbing</text>
<text x="205.7" y="503.9" font-size="9.25" font-weight="bold">time (min) after formalin injection</text>
<text x="80.3" y="279.2" font-size="12" font-weight="bold">b</text>
<g transform="translate(125.2,483.6) scale(1,1.18)"><text x="0" y="0" font-size="9" font-weight="bold" style="stroke-width:0.3px">0</text></g>
<text class="r" x="93.6" y="506.9" font-size="9.2">CG± MSF</text>
<line x1="120.5" y1="489" x2="120.5" y2="497.7" stroke="#000" stroke-width="1.3"/>
<path d="M120.5 485.2L118.6 489.8L122.4 489.8Z" fill="#000"/>
<line x1="129.4" y1="489" x2="129.4" y2="497.7" stroke="#888" stroke-width="1.3"/>
<path d="M129.4 485.2L127.5 489.8L131.3 489.8Z" fill="#000"/>
</svg>
</body></html>
